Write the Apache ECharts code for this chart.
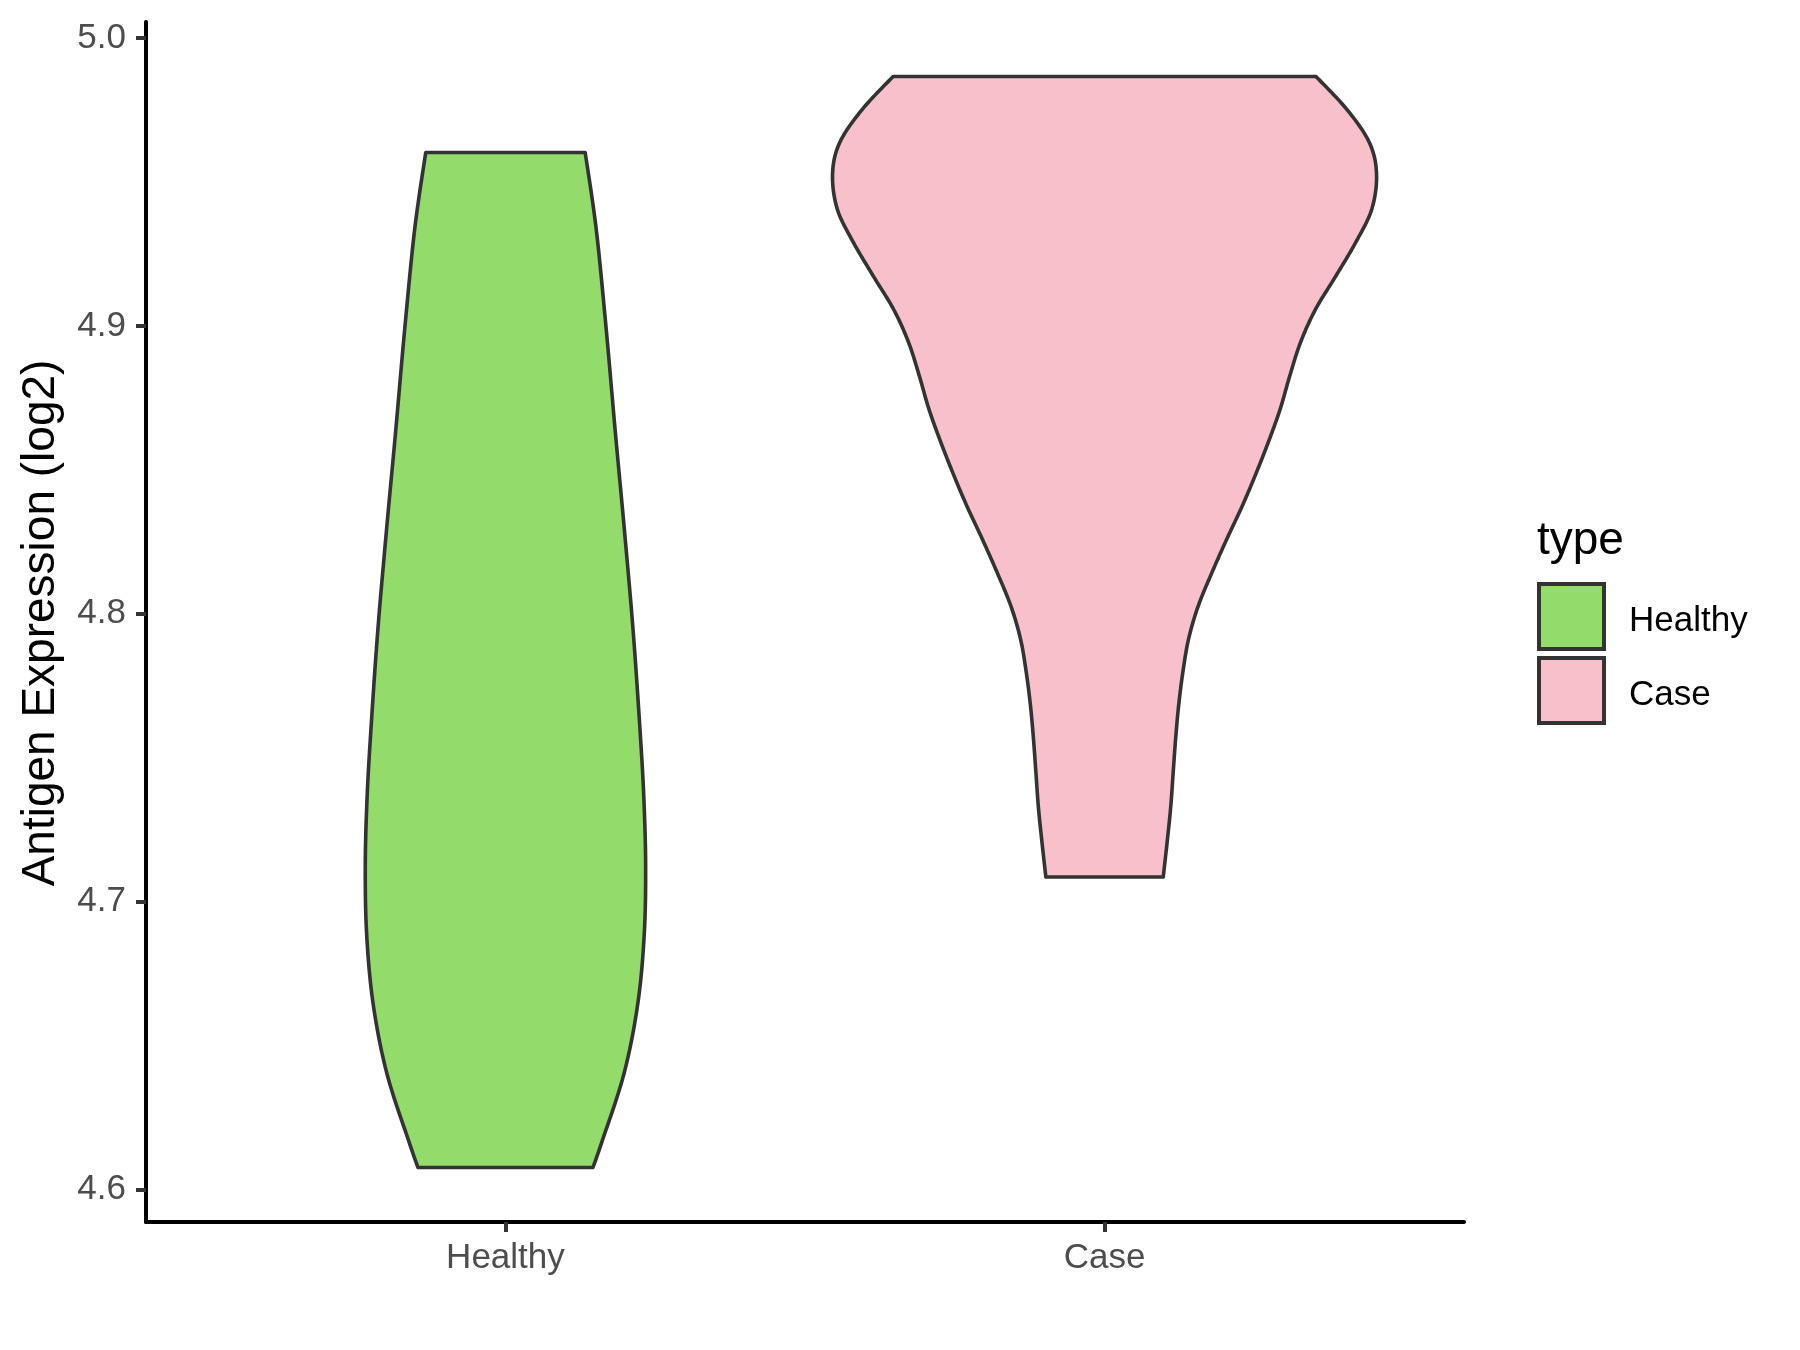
<!DOCTYPE html>
<html><head><meta charset="utf-8">
<script src="https://cdn.jsdelivr.net/npm/echarts@6/dist/echarts.min.js"></script>
<style>html,body{margin:0;padding:0;background:#fff}#c{width:1800px;height:1350px}</style>
</head><body><div id="c"></div>
<script>
// ---- data ----
const categories = ['Healthy', 'Case'];
const categoryPositions = [1, 2];
const healthyValues = [4.9602, 4.9336, 4.8988, 4.8640, 4.8292, 4.7944, 4.7600, 4.7360, 4.7120, 4.6880, 4.6640, 4.6400, 4.6160, 4.6077];
const healthyHalfWidths = [0.1331, 0.1515, 0.1682, 0.1830, 0.1985, 0.2130, 0.2245, 0.2310, 0.2340, 0.2315, 0.2205, 0.1975, 0.1600, 0.1461];
const caseValues = [4.9866, 4.9753, 4.9637, 4.9527, 4.9405, 4.9289, 4.9173, 4.9057, 4.8942, 4.8825, 4.8710, 4.8594, 4.8478, 4.8373, 4.8257, 4.8142, 4.8025, 4.7910, 4.7794, 4.7678, 4.7562, 4.7447, 4.7330, 4.7217, 4.7086];
const caseHalfWidths = [0.353, 0.404, 0.442, 0.454, 0.446, 0.419, 0.386, 0.352, 0.327, 0.309, 0.293, 0.273, 0.251, 0.2295, 0.2035, 0.179, 0.156, 0.140, 0.1305, 0.1235, 0.1185, 0.1145, 0.1105, 0.105, 0.098];
const yTicks = [4.6, 4.7, 4.8, 4.9, 5.0];
const xTicks = categoryPositions;
const yAxisTitle = 'Antigen Expression (log2)';
const legendTitle = 'type';

// ---- styling ----
const FONT = '"Liberation Sans", Arial, sans-serif';
const fills = ['#93DB6A', '#F7C0CB'];
const OUTLINE = '#333333';

const allVals = healthyValues.concat(caseValues);
const dMin = Math.min.apply(null, allVals), dMax = Math.max.apply(null, allVals);
const pad = (dMax - dMin) * 0.05;
const yMin = dMin - pad, yMax = dMax + pad;

function catmull(pts, steps) {
  const out = [];
  const n = pts.length;
  for (let i = 0; i < n - 1; i++) {
    const p0 = pts[Math.max(i - 1, 0)], p1 = pts[i], p2 = pts[i + 1], p3 = pts[Math.min(i + 2, n - 1)];
    for (let s = 0; s < steps; s++) {
      const t = s / steps, t2 = t * t, t3 = t2 * t;
      const f = k => 0.5 * ((2 * p1[k]) + (-p0[k] + p2[k]) * t + (2 * p0[k] - 5 * p1[k] + 4 * p2[k] - p3[k]) * t2 + (-p0[k] + 3 * p1[k] - 3 * p2[k] + p3[k]) * t3);
      out.push([f(0), f(1)]);
    }
  }
  out.push(pts[n - 1]);
  return out;
}

function violinSeries(idx, values, halfWidths) {
  const color = fills[idx];
  return {
    type: 'custom',
    name: categories[idx],
    coordinateSystem: 'cartesian2d',
    silent: true,
    itemStyle: { color: color, borderColor: OUTLINE, borderWidth: 4 },
    data: [[categoryPositions[idx], values[0]]],
    encode: { x: 0, y: 1 },
    renderItem: function (params, api) {
      const c = categoryPositions[idx];
      const right = values.map((v, i) => api.coord([c + halfWidths[i], v]));
      const left = values.map((v, i) => api.coord([c - halfWidths[i], v]));
      const r = catmull(right, 16);
      const l = catmull(left, 16).reverse();
      return {
        type: 'polygon',
        shape: { points: r.concat(l) },
        style: { fill: color, stroke: OUTLINE, lineWidth: 3.6, lineJoin: 'round' }
      };
    }
  };
}

const chart = echarts.init(document.getElementById('c'), null, { renderer: 'canvas' });
chart.setOption({
  animation: false,
  backgroundColor: '#ffffff',
  grid: { left: 146, right: 336, top: 22, bottom: 128, outerBoundsMode: 'none', containLabel: false },
  xAxis: {
    type: 'value', min: 0.4, max: 2.6,
    splitLine: { show: false },
    axisLine: { show: true, onZero: false, lineStyle: { color: '#000000', width: 4 } },
    axisTick: { show: true, customValues: xTicks, length: 10, lineStyle: { color: OUTLINE, width: 4 } },
    axisLabel: {
      show: true, customValues: xTicks, margin: 19,
      formatter: v => categories[categoryPositions.indexOf(Math.round(v))] || '',
      color: '#4D4D4D', fontSize: 35, fontFamily: FONT
    }
  },
  yAxis: {
    type: 'value', min: yMin, max: yMax,
    splitLine: { show: false },
    axisLine: { show: true, onZero: false, lineStyle: { color: '#000000', width: 4 } },
    axisTick: { show: true, customValues: yTicks, length: 10, lineStyle: { color: OUTLINE, width: 4 } },
    axisLabel: {
      show: true, customValues: yTicks, margin: 20,
      formatter: v => Number(v).toFixed(1),
      color: '#4D4D4D', fontSize: 35, fontFamily: FONT
    }
  },
  legend: {
    orient: 'vertical', left: 1537, top: 582, padding: 0,
    itemWidth: 65, itemHeight: 65, itemGap: 5, icon: 'rect', selectedMode: false,
    data: categories.map((n, i) => ({ name: n, itemStyle: { color: fills[i], borderColor: OUTLINE, borderWidth: 4 } })),
    formatter: name => '{t|' + name + '}',
    textStyle: {
      fontSize: 35, color: '#000000', fontFamily: FONT,
      rich: { t: { fontSize: 35, color: '#000000', fontFamily: FONT, padding: [10, 0, 0, 20] } }
    }
  },
  graphic: [
    { type: 'text', x: 41, y: 623, rotation: Math.PI / 2,
      style: { text: yAxisTitle, fontSize: 46, fontFamily: FONT, fill: '#000000', align: 'center', verticalAlign: 'middle' } },
    { type: 'text', x: 1537, y: 541,
      style: { text: legendTitle, fontSize: 46, fontFamily: FONT, fill: '#000000', align: 'left', verticalAlign: 'middle' } }
  ],
  series: [
    violinSeries(0, healthyValues, healthyHalfWidths),
    violinSeries(1, caseValues, caseHalfWidths)
  ]
});
</script>
</body></html>
